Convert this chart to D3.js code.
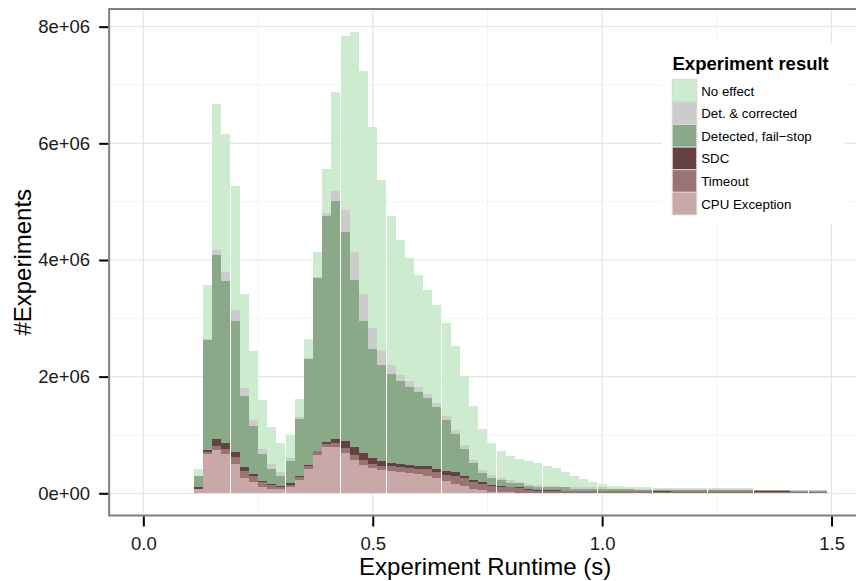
<!DOCTYPE html>
<html>
<head>
<meta charset="utf-8">
<script src="https://cdn.jsdelivr.net/npm/d3@7"></script>
<style>
  body { margin: 0; background: #ffffff; }
  svg { display: block; }
  text { font-family: "Liberation Sans", Arial, Helvetica, sans-serif; }
</style>
</head>
<body>
<svg id="chart" width="856" height="581"></svg>
<script>
// Histogram bins: runtime in seconds, counts in millions of experiments
const UNIT = 1e6;
const binStart = 0.11;
const binWidth = 0.02;

const seriesNames = ["CPU Exception", "Timeout", "SDC", "Detected, fail\u2212stop", "Det. & corrected", "No effect"];
const seriesColors = ["#cba8a8", "#9a7373", "#654141", "#89a989", "#cccccc", "#cdeccf"];

const cpuException = [0.075, 0.67, 0.74, 0.67, 0.50, 0.26, 0.19, 0.11, 0.07, 0.07,
  0.11, 0.23, 0.42, 0.66, 0.79, 0.79, 0.69, 0.57, 0.49, 0.43,
  0.40, 0.38, 0.37, 0.35, 0.33, 0.30, 0.27, 0.21, 0.16, 0.13,
  0.08, 0.05, 0.02, 0.03, 0.02, 0.01, 0.005, 0.005, 0.005, 0.01,
  0.005, 0.005, 0.005, 0.005, 0.005, 0.005, 0.005, 0.005, 0.005, 0.005,
  0.005, 0.005, 0.005, 0.005, 0.005, 0.005, 0.005, 0.005, 0.005, 0.005,
  0.005, 0.005, 0.005, 0.005, 0.005, 0.005, 0.005, 0.005, 0.005];
const timeout = [0.005, 0.03, 0.07, 0.09, 0.12, 0.13, 0.11, 0.08, 0.07, 0.04,
  0.03, 0.05, 0.04, 0.06, 0.055, 0.07, 0.09, 0.09, 0.08, 0.07,
  0.07, 0.08, 0.08, 0.09, 0.09, 0.11, 0.10, 0.11, 0.14, 0.13,
  0.11, 0.11, 0.11, 0.08, 0.08, 0.08, 0.055, 0.04, 0.04, 0.035,
  0.035, 0.035, 0.035, 0.035, 0.035, 0.035, 0.035, 0.035, 0.033, 0.033,
  0.025, 0.025, 0.03, 0.03, 0.03, 0.03, 0.03, 0.03, 0.03, 0.03,
  0.03, 0.025, 0.015, 0.025, 0.015, 0.02, 0.02, 0.02, 0.02];
const sdc = [0.023, 0.04, 0.12, 0.10, 0.09, 0.06, 0.03, 0.02, 0.02, 0.015,
  0.04, 0.02, 0.02, 0.01, 0.035, 0.07, 0.12, 0.13, 0.12, 0.10,
  0.08, 0.06, 0.05, 0.05, 0.05, 0.05, 0.05, 0.06, 0.07, 0.04,
  0.04, 0.03, 0.02, 0.02, 0.01, 0.01, 0.02, 0.015, 0.01, 0.015,
  0.005, 0.005, 0.005, 0.005, 0.005, 0.003, 0.003, 0.003, 0.003, 0.003,
  0.015, 0.015, 0.003, 0.003, 0.003, 0.003, 0.003, 0.003, 0.003, 0.003,
  0.003, 0.003, 0.012, 0.003, 0.012, 0.003, 0.003, 0.003, 0.003];
const failStop = [0.194, 1.89, 3.15, 2.78, 2.24, 1.22, 0.82, 0.46, 0.26, 0.175,
  0.37, 0.97, 1.82, 2.96, 3.87, 4.08, 3.58, 2.87, 2.26, 1.87,
  1.65, 1.53, 1.43, 1.33, 1.27, 1.18, 1.06, 0.87, 0.65, 0.46,
  0.29, 0.16, 0.12, 0.09, 0.07, 0.07, 0.05, 0.05, 0.05, 0.04,
  0.055, 0.035, 0.035, 0.035, 0.035, 0.03, 0.03, 0.025, 0.022, 0.022,
  0.02, 0.02, 0.027, 0.027, 0.027, 0.027, 0.027, 0.027, 0.027, 0.027,
  0.025, 0.02, 0.02, 0.02, 0.02, 0.02, 0.015, 0.02, 0.02];
const detCorrected = [0.003, 0.02, 0.09, 0.15, 0.19, 0.14, 0.11, 0.09, 0.08, 0.07,
  0.06, 0.03, 0.02, 0.02, 0.06, 0.17, 0.38, 0.48, 0.47, 0.36,
  0.24, 0.15, 0.10, 0.11, 0.08, 0.07, 0.07, 0.07, 0.06, 0.07,
  0.05, 0.05, 0.05, 0.05, 0.05, 0.03, 0.035, 0.04, 0.02, 0.03,
  0.01, 0.02, 0.02, 0.02, 0.02, 0.005, 0.005, 0.005, 0.015, 0.015,
  0.005, 0.005, 0.005, 0.005, 0.005, 0.005, 0.005, 0.005, 0.005, 0.005,
  0.015, 0.003, 0.003, 0.003, 0.003, 0.003, 0.01, 0.003, 0.003];
const noEffect = [0.117, 0.92, 2.50, 2.37, 2.13, 1.61, 1.18, 0.84, 0.64, 0.49,
  0.39, 0.32, 0.33, 0.43, 0.75, 1.70, 2.98, 3.77, 3.82, 3.45,
  2.93, 2.55, 2.31, 2.10, 1.92, 1.77, 1.68, 1.60, 1.45, 1.18,
  0.93, 0.71, 0.54, 0.46, 0.41, 0.39, 0.395, 0.375, 0.35, 0.30,
  0.26, 0.20, 0.15, 0.10, 0.06, 0.047, 0.047, 0.037, 0.032, 0.022,
  0.02, 0.02, 0.02, 0.02, 0.02, 0.02, 0.02, 0.02, 0.02, 0.02,
  0.012, 0.006, 0.007, 0.006, 0.007, 0.011, 0.004, 0.011, 0.011];

const xTicks = [0, 0.5, 1.0, 1.5];
const xTickLabels = ["0.0", "0.5", "1.0", "1.5"];
const xMinorTicks = [0.25, 0.75, 1.25];
const yTicks = [0, 2e6, 4e6, 6e6, 8e6];
const yTickLabels = ["0e+00", "2e+06", "4e+06", "6e+06", "8e+06"];
const yMinorTicks = [1e6, 3e6, 5e6, 7e6];

// Build one row per bin with each outcome count
const seriesValues = [cpuException, timeout, sdc, failStop, detCorrected, noEffect];
const rows = cpuException.map((_, i) => {
  const r = { x0: binStart + i * binWidth, x1: binStart + (i + 1) * binWidth };
  seriesNames.forEach((name, s) => { r[name] = seriesValues[s][i] * UNIT; });
  return r;
});

const svg = d3.select("#chart");

const x = d3.scaleLinear().domain([-0.0745, 1.5645]).range([109.15, 861.15]);
const y = d3.scaleLinear().domain([-0.3806e6, 8.303e6]).range([515.5, 9]);

const [px0, px1] = x.range();
const [py1, py0] = y.range();

// Panel background
svg.append("rect").attr("x", px0).attr("y", py0)
  .attr("width", px1 - px0).attr("height", py1 - py0).attr("fill", "#ffffff");

// Grid lines
const grid = svg.append("g");
grid.selectAll(".ymin").data(yMinorTicks).join("line")
  .attr("x1", px0).attr("x2", px1).attr("y1", d => y(d)).attr("y2", d => y(d))
  .attr("stroke", "#f3f3f3").attr("stroke-width", 1);
grid.selectAll(".xmin").data(xMinorTicks).join("line")
  .attr("y1", py0).attr("y2", py1).attr("x1", d => x(d)).attr("x2", d => x(d))
  .attr("stroke", "#f3f3f3").attr("stroke-width", 1);
grid.selectAll(".ymaj").data(yTicks).join("line")
  .attr("x1", px0).attr("x2", px1).attr("y1", d => y(d)).attr("y2", d => y(d))
  .attr("stroke", "#e5e5e5").attr("stroke-width", 1.2);
grid.selectAll(".xmaj").data(xTicks).join("line")
  .attr("y1", py0).attr("y2", py1).attr("x1", d => x(d)).attr("x2", d => x(d))
  .attr("stroke", "#e5e5e5").attr("stroke-width", 1.2);

// Stacked histogram bars; left edge and width snap to whole pixels
const stacked = d3.stack().keys(seriesNames)(rows);
const bars = svg.append("g").attr("shape-rendering", "crispEdges");
bars.selectAll("g").data(stacked).join("g")
  .attr("fill", (d, i) => seriesColors[i])
  .selectAll("rect").data(d => d).join("rect")
  .attr("x", d => Math.round(x(d.data.x0)))
  .attr("width", d => Math.round(x(d.data.x1) - x(d.data.x0)))
  .attr("y", d => y(d[1]))
  .attr("height", d => Math.max(0, y(d[0]) - y(d[1])));

// Panel border
svg.append("rect").attr("x", px0).attr("y", py0)
  .attr("width", px1 - px0).attr("height", py1 - py0)
  .attr("fill", "none").attr("stroke", "#7f7f7f").attr("stroke-width", 2);

// Axes
const xAxis = svg.append("g").attr("transform", `translate(0,${py1 + 1})`)
  .call(d3.axisBottom(x).tickValues(xTicks).tickFormat((d, i) => xTickLabels[i])
    .tickSizeOuter(0).tickSizeInner(10).tickPadding(10.5));
const yAxis = svg.append("g").attr("transform", `translate(${px0 - 1},0)`)
  .call(d3.axisLeft(y).tickValues(yTicks).tickFormat((d, i) => yTickLabels[i])
    .tickSizeOuter(0).tickSizeInner(9).tickPadding(9));
[xAxis, yAxis].forEach(a => {
  a.select(".domain").remove();
  a.selectAll(".tick line").attr("stroke", "#000").attr("stroke-width", 2);
  a.selectAll(".tick text").attr("fill", "#1a1a1a").attr("font-size", 18.5)
    .attr("font-family", "'Liberation Sans', Arial, Helvetica, sans-serif");
});

// Axis titles
svg.append("text").attr("x", (px0 + px1) / 2).attr("y", 575)
  .attr("text-anchor", "middle").attr("font-size", 24).attr("fill", "#000")
  .text("Experiment Runtime (s)");
svg.append("text").attr("transform", `translate(31,${(py0 + py1) / 2}) rotate(-90)`)
  .attr("text-anchor", "middle").attr("font-size", 24).attr("fill", "#000")
  .text("#Experiments");

// Legend (top to bottom mirrors the stack from top down)
const legend = svg.append("g").attr("transform", "translate(662,44)");
legend.append("rect").attr("width", 183).attr("height", 179).attr("fill", "#ffffff");
legend.append("text").attr("x", 10.5).attr("y", 25.5)
  .attr("font-size", 18.5).attr("font-weight", "bold").attr("fill", "#000")
  .text("Experiment result");
const legendItems = seriesNames.map((n, i) => ({ name: n, color: seriesColors[i] })).reverse();
const keyH = 22.6, keyW = 24.4;
const item = legend.selectAll(".item").data(legendItems).join("g")
  .attr("transform", (d, i) => `translate(10.3,${35.3 + i * keyH})`);
item.append("rect").attr("width", keyW).attr("height", keyH)
  .attr("fill", d => d.color).attr("stroke", "#d6d6d6").attr("stroke-width", 1);
item.append("text").attr("x", keyW + 4.5).attr("y", keyH / 2 + 5)
  .attr("font-size", 13.3).attr("fill", "#000").text(d => d.name);
</script>
</body>
</html>
